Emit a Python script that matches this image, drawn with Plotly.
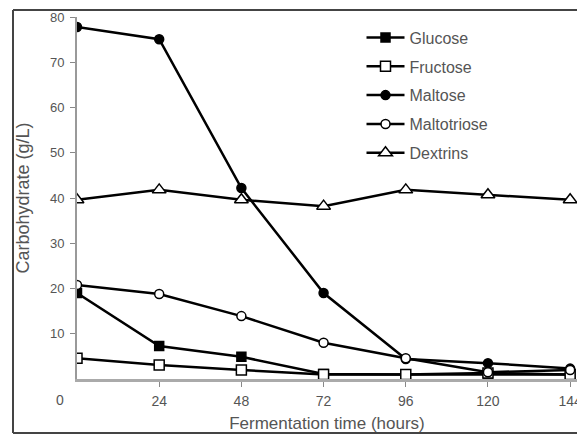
import plotly.graph_objects as go

time_h = [0, 24, 48, 72, 96, 120, 144]
glucose = [19.0, 7.3, 4.9, 1.1, 1.0, 1.0, 1.0]
fructose = [4.6, 3.1, 2.0, 1.0, 1.0, 1.3, 1.0]
maltose = [77.8, 75.1, 42.2, 19.0, 4.4, 3.5, 2.3]
maltotriose = [20.8, 18.8, 13.9, 8.0, 4.6, 1.5, 2.0]
dextrins = [39.6, 41.8, 39.6, 38.2, 41.8, 40.7, 39.6]

series_names = ["Glucose", "Fructose", "Maltose", "Maltotriose", "Dextrins"]
series_values = [glucose, fructose, maltose, maltotriose, dextrins]
x_ticks = [24, 48, 72, 96, 120, 144]
y_ticks = [10, 20, 30, 40, 50, 60, 70, 80]

styles = [
    dict(symbol="square", color="black", size=9),
    dict(symbol="square", color="white", size=10),
    dict(symbol="circle", color="black", size=9),
    dict(symbol="circle", color="white", size=9),
    dict(symbol="triangle-up", color="white", size=12),
]

fig = go.Figure()
for i, (name, vals, st) in enumerate(zip(series_names, series_values, styles)):
    fig.add_trace(go.Scatter(
        x=time_h, y=vals, name=name, mode="lines+markers",
        legendgroup=name,
        line=dict(color="black", width=2.5),
        marker=dict(symbol=st["symbol"], color=st["color"], size=st["size"],
                    line=dict(color="black", width=1.5)),
    ))

font_family = "Liberation Sans, Arial, sans-serif"
txt = "#555"
frame = dict(color="#444", width=2)
fig.update_layout(
    width=577, height=436,
    margin=dict(l=77, r=0, t=17, b=57, autoexpand=False),
    paper_bgcolor="white", plot_bgcolor="white",
    font=dict(family=font_family, size=13, color=txt),
    showlegend=True,
    legend=dict(x=0.569, y=0.99, xanchor="left", yanchor="top",
                traceorder="grouped", tracegroupgap=5,
                bgcolor="rgba(0,0,0,0)", font=dict(size=16, color=txt),
                itemwidth=38),
    xaxis=dict(range=[0, 146.0], tickvals=x_ticks, ticktext=[str(v) for v in x_ticks],
               automargin=False,
               showline=True, linecolor="#aaa", linewidth=2.5,
               ticks="outside", ticklen=5, tickcolor="#888", tickwidth=1,
               ticklabelstandoff=2, ticklabeloverflow="allow",
               tickfont=dict(size=14, color=txt),
               showgrid=False, zeroline=False,
               title=dict(text="Fermentation time (hours)", standoff=10,
                          font=dict(size=17, color=txt))),
    yaxis=dict(range=[0, 80], tickvals=y_ticks,
               automargin=False,
               showline=True, linecolor="#999", linewidth=2,
               ticks="outside", ticklen=5, tickcolor="#888", tickwidth=1,
               ticklabelstandoff=3,
               tickfont=dict(size=13, color=txt),
               showgrid=False, zeroline=False,
               title=dict(text="Carbohydrate (g/L)", standoff=16,
                          font=dict(size=18, color=txt))),
    shapes=[
        dict(type="line", xref="paper", yref="paper",
             x0=-0.128, x1=1.3, y0=1.019, y1=1.019, line=frame, layer="below"),
        dict(type="line", xref="paper", yref="paper",
             x0=-0.128, x1=-0.128, y0=-0.149, y1=1.019, line=frame, layer="below"),
        dict(type="line", xref="paper", yref="paper",
             x0=-0.128, x1=1.3, y0=-0.149, y1=-0.149, line=frame, layer="below"),
    ],
    annotations=[
        dict(text="0", xref="paper", yref="paper", x=-0.034, y=-0.03,
             xanchor="center", yanchor="top", showarrow=False,
             font=dict(size=14, color=txt)),
    ],
)

fig.write_html("out.html", config={"displayModeBar": False},
               post_script="document.body.style.margin='0';")
